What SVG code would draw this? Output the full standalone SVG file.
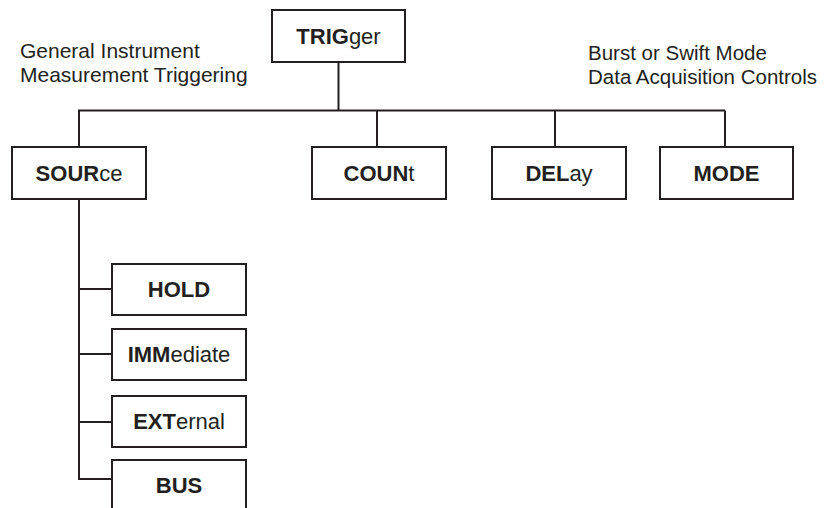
<svg xmlns="http://www.w3.org/2000/svg" width="827" height="508" viewBox="0 0 827 508">
  <style>
    .box { fill: #ffffff; stroke: #231f20; stroke-width: 2; }
    .wire { fill: none; stroke: #231f20; stroke-width: 2; }
    .lbl { font-family: "Liberation Sans", Arial, sans-serif; font-size: 22px; fill: #231f20; text-anchor: middle; }
    .lbl .b { font-weight: bold; }
    .note { font-family: "Liberation Sans", Arial, sans-serif; font-size: 20.5px; fill: #231f20; }
  </style>
  <rect width="827" height="508" fill="#ffffff"/>

  <!-- tree connectors -->
  <g id="connectors" class="wire">
    <path d="M338.5 62 V110.5"/>
    <path d="M78 110.5 H725"/>
    <path d="M79 110.5 V147"/>
    <path d="M377 110.5 V147"/>
    <path d="M555 110.5 V147"/>
    <path d="M725 110.5 V147"/>
    <path d="M79 199 V479 H112"/>
    <path d="M79 289 H112"/>
    <path d="M79 354 H112"/>
    <path d="M79 422 H112"/>
  </g>

  <!-- side notes -->
  <g id="note-left" class="note" style="font-size:21px">
    <text x="20" y="58">General Instrument</text>
    <text x="20" y="82">Measurement Triggering</text>
  </g>
  <g id="note-right" class="note">
    <text x="588" y="60">Burst or Swift Mode</text>
    <text x="588" y="84">Data Acquisition Controls</text>
  </g>

  <g id="trigger">
    <rect class="box" x="272" y="10" width="133" height="52"/>
    <text class="lbl" x="338.5" y="44"><tspan class="b">TRIG</tspan>ger</text>
  </g>

  <g id="source">
    <rect class="box" x="12" y="147" width="134" height="52"/>
    <text class="lbl" x="79" y="181"><tspan class="b">SOUR</tspan>ce</text>
  </g>

  <g id="count">
    <rect class="box" x="312" y="147" width="134" height="52"/>
    <text class="lbl" x="379" y="181"><tspan class="b">COUN</tspan>t</text>
  </g>

  <g id="delay">
    <rect class="box" x="492" y="147" width="134" height="52"/>
    <text class="lbl" x="559" y="181"><tspan class="b">DEL</tspan>ay</text>
  </g>

  <g id="mode">
    <rect class="box" x="660" y="147" width="133" height="52"/>
    <text class="lbl" x="726.5" y="181"><tspan class="b">MODE</tspan></text>
  </g>

  <g id="hold">
    <rect class="box" x="112" y="264" width="134" height="51"/>
    <text class="lbl" x="179" y="297"><tspan class="b">HOLD</tspan></text>
  </g>

  <g id="immediate">
    <rect class="box" x="112" y="329" width="134" height="51"/>
    <text class="lbl" x="179" y="362"><tspan class="b">IMM</tspan>ediate</text>
  </g>

  <g id="external">
    <rect class="box" x="112" y="396" width="134" height="51"/>
    <text class="lbl" x="179" y="429"><tspan class="b">EXT</tspan>ernal</text>
  </g>

  <g id="bus">
    <rect class="box" x="112" y="460" width="134" height="60"/>
    <text class="lbl" x="179" y="493"><tspan class="b">BUS</tspan></text>
  </g>
</svg>
